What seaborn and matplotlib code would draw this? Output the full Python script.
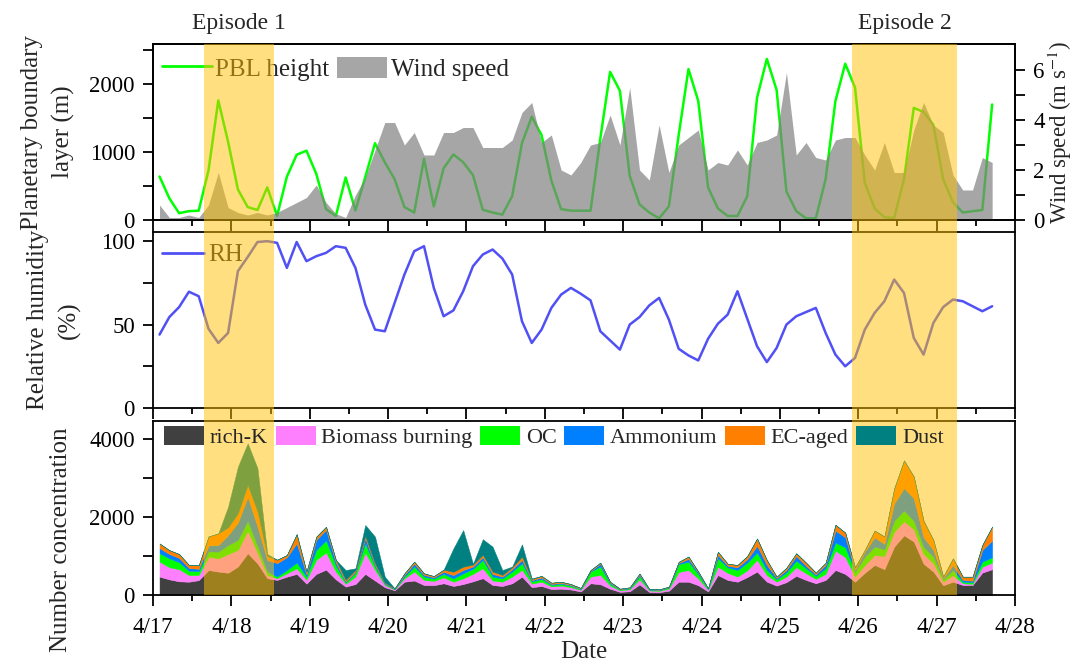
import numpy as np
import matplotlib
matplotlib.use("Agg")
import matplotlib.pyplot as plt
import matplotlib.transforms as mtransforms
from matplotlib.lines import Line2D
from matplotlib.patches import Patch, Rectangle
from matplotlib.ticker import FixedLocator, FixedFormatter
import seaborn as sns

# ---------------------------------------------------------------- data
# 3-hourly samples, first one at 4/17 02:00; x is expressed in days since 4/17 00:00
hours = np.arange(86) * 3 + 2
days = hours / 24.0

date_labels = ["4/17", "4/18", "4/19", "4/20", "4/21", "4/22",
               "4/23", "4/24", "4/25", "4/26", "4/27", "4/28"]

pbl_height = [640, 320, 100, 130, 137, 730, 1760, 1150, 450, 190,
              147, 480, 60, 637, 960, 1020, 680, 160, 60, 625,
              140, 630, 1130, 850, 600, 190, 110, 900, 200, 760,
              965, 850, 660, 150, 110, 80, 350, 1130, 1520, 1250,
              580, 160, 137, 137, 137, 1200, 2180, 1900, 650, 230,
              110, 25, 200, 1250, 2220, 1750, 480, 170, 60, 59,
              350, 1800, 2370, 1912, 420, 130, 25, 25, 600, 1750,
              2300, 1950, 550, 170, 40, 30, 600, 1650, 1590, 1400,
              600, 260, 110, 130, 147, 1700]

wind_speed = [0.6, 0.1, 0.1, 0.2, 0.1, 0.6, 1.9, 0.5, 0.3, 0.2,
              0.3, 0.2, 0.3, 0.5, 0.7, 0.9, 1.4, 0.7, 0.25, 0.1,
              1.0, 1.7, 2.8, 3.9, 3.9, 3.0, 3.5, 2.6, 2.6, 3.5,
              3.5, 3.7, 3.7, 2.9, 2.9, 2.9, 3.2, 4.3, 4.7, 3.1,
              3.4, 2.0, 1.8, 2.3, 3.0, 3.1, 4.2, 3.0, 5.3, 2.0,
              1.6, 3.8, 1.9, 3.0, 3.3, 3.6, 2.0, 2.3, 2.2, 2.8,
              2.2, 3.1, 3.2, 3.4, 5.9, 2.6, 3.1, 2.5, 2.4, 3.2,
              3.3, 3.3, 2.6, 2.0, 3.1, 1.9, 1.9, 3.6, 4.7, 3.8,
              3.5, 1.8, 1.2, 1.2, 2.5, 2.3]

rel_humidity = [44, 54.5, 60.5, 69.7, 67, 47.5, 39, 45, 82, 90.5,
                99.5, 100, 99, 84, 99.5, 88, 91, 93, 97, 96,
                84, 62, 47, 46, 63, 80, 94, 97, 72, 55,
                58.5, 70, 85, 92, 95, 89.6, 80, 52, 39, 47,
                60, 68, 72, 68.5, 64.5, 46, 40.5, 35, 50, 54.5,
                61.5, 66, 53, 35.5, 31.5, 28.5, 41.5, 50.5, 56, 70,
                53.5, 37, 27.5, 36, 50, 55, 57.5, 60, 45, 32,
                25, 30, 47, 57, 64, 77, 69, 42, 32, 51,
                60.5, 65, 64, 61, 58, 61]

rich_k = [470, 400, 350, 340, 380, 640, 600, 570, 730, 1070,
          810, 430, 385, 470, 540, 290, 540, 650, 400, 215,
          280, 540, 370, 200, 120, 340, 370, 255, 250, 300,
          230, 280, 350, 430, 255, 230, 300, 470, 200, 230,
          150, 160, 140, 90, 300, 275, 160, 80, 95, 270,
          75, 70, 110, 340, 340, 250, 90, 510, 385, 340,
          460, 600, 340, 240, 330, 490, 385, 300, 385, 640,
          540, 340, 570, 770, 660, 1240, 1530, 1370, 800, 600,
          250, 340, 255, 255, 575, 660]

biomass_burning = [385, 310, 310, 170, 130, 340, 340, 480, 425, 580,
                   275, 85, 45, 85, 145, 100, 360, 440, 200, 70,
                   190, 545, 270, 55, 20, 85, 230, 130, 110, 150,
                   110, 145, 190, 255, 115, 110, 170, 175, 90, 110,
                   70, 80, 60, 40, 170, 240, 80, 40, 50, 130,
                   40, 35, 50, 250, 300, 170, 40, 215, 180, 130,
                   170, 300, 170, 100, 140, 220, 170, 110, 155, 495,
                   430, 130, 200, 255, 340, 385, 360, 315, 250, 215,
                   90, 170, 45, 30, 150, 170]

oc = [215, 230, 180, 110, 100, 140, 170, 230, 255, 255,
      170, 85, 45, 85, 145, 80, 255, 310, 150, 35,
      100, 240, 85, 25, 10, 45, 130, 85, 60, 90,
      85, 130, 130, 215, 100, 85, 130, 170, 60, 70,
      40, 45, 35, 20, 130, 215, 50, 20, 25, 80,
      20, 20, 30, 200, 215, 110, 20, 215, 140, 170,
      200, 190, 130, 60, 110, 170, 130, 80, 145, 205,
      255, 130, 210, 215, 170, 280, 275, 220, 180, 170,
      60, 130, 40, 40, 130, 135]

ammonium = [130, 110, 110, 70, 60, 150, 170, 255, 445, 615,
            500, 300, 340, 325, 495, 60, 255, 270, 80, 25,
            25, 130, 40, 20, 10, 45, 70, 45, 35, 55,
            85, 85, 60, 70, 70, 45, 60, 85, 30, 40,
            25, 25, 20, 12, 15, 70, 25, 10, 12, 35,
            10, 10, 12, 30, 70, 40, 10, 85, 45, 70,
            85, 170, 130, 35, 60, 120, 60, 40, 85, 310,
            255, 45, 130, 240, 140, 445, 575, 575, 250, 170,
            35, 130, 45, 40, 300, 430]

ec_aged = [120, 100, 100, 80, 90, 230, 300, 200, 240, 300,
           385, 100, 90, 60, 235, 70, 85, 80, 70, 45,
           45, 60, 45, 15, 10, 40, 55, 40, 30, 55,
           85, 85, 50, 60, 60, 45, 50, 85, 30, 40,
           30, 30, 25, 18, 25, 30, 25, 12, 15, 35,
           9, 10, 12, 30, 60, 30, 10, 85, 50, 60,
           85, 190, 125, 35, 60, 70, 85, 43, 57, 150,
           120, 65, 45, 170, 190, 385, 710, 555, 420, 255,
           35, 170, 85, 105, 130, 360]

dust = [0, 0, 0, 0, 0, 0, 0, 530, 1195, 1070,
        1110, 50, 0, 0, 0, 0, 0, 0, 0, 250,
        45, 280, 685, 155, 0, 0, 0, 0, 0, 0,
        600, 940, 20, 400, 640, 125, 20, 315, 15, 0,
        0, 0, 0, 0, 0, 0, 0, 0, 0, 0,
        0, 0, 0, 0, 0, 0, 0, 0, 0, 0,
        0, 0, 0, 0, 0, 0, 0, 0, 0, 0,
        0, 0, 0, 0, 0, 0, 0, 0, 0, 0,
        0, 0, 0, 0, 0, 0]

species_names = ["rich-K", "Biomass burning", "OC", "Ammonium", "EC-aged", "Dust"]
species_colors = ["#404040", "#FF80FF", "#00FF00", "#0080FF", "#FF8000", "#008080"]

# pollution episodes (days since 4/17 00:00)
episode_names = ["Episode 1", "Episode 2"]
episode_start = [0.65, 8.92]
episode_end = [1.55, 10.26]

# ---------------------------------------------------------------- style
sns.set_theme(style="ticks")
plt.rcParams["font.family"] = ["Liberation Serif", "DejaVu Serif"]
plt.rcParams["mathtext.fontset"] = "stix"
plt.rcParams["axes.linewidth"] = 1.3
plt.rcParams["axes.edgecolor"] = "black"
plt.rcParams["xtick.color"] = "black"
plt.rcParams["ytick.color"] = "black"

TICK_FS = 16.5
LABEL_FS = 18

fig = plt.figure(figsize=(10.79, 6.64), dpi=100)
left, width = 153 / 1079, 862 / 1079
ax1 = fig.add_axes([left, 1 - 220 / 664, width, 176 / 664])
ax2 = fig.add_axes([left, 1 - 408 / 664, width, 176 / 664])
ax3 = fig.add_axes([left, 1 - 595 / 664, width, 174 / 664])
ax1w = ax1.twinx()

# ---------------------------------------------------------------- PBL + wind
sns.lineplot(x=days, y=pbl_height, ax=ax1, color="#00FF00", lw=1.8, legend=False)
ax1.set_ylim(0, 2590)
ax1w.fill_between(days, 0, wind_speed, color="#808080", alpha=0.7, lw=0)
ax1w.set_ylim(0, 7.04)
ax1w.set_zorder(ax1.get_zorder() + 1)
ax1w.patch.set_visible(False)

ax1.yaxis.set_major_locator(FixedLocator([0, 1000, 2000]))
ax1.yaxis.set_minor_locator(FixedLocator([500, 1500, 2500]))
ax1w.yaxis.set_major_locator(FixedLocator([0, 2, 4, 6]))
ax1w.yaxis.set_minor_locator(FixedLocator([1, 3, 5]))
ax1.set_ylabel("Planetary boundary\nlayer (m)", fontsize=LABEL_FS, linespacing=1.5)
ax1w.set_ylabel("Wind speed (m s$^{-1}$)", fontsize=16.5)

ax1.legend(handles=[Line2D([], [], color="#00FF00", lw=2),
                    Patch(facecolor="#A6A6A6", edgecolor="none")],
           labels=["PBL height", "Wind speed"], ncol=2, frameon=False,
           loc="center left", bbox_to_anchor=(0.010, 0.858),
           borderpad=0, borderaxespad=0, fontsize=LABEL_FS,
           handlelength=2.0, handletextpad=0.15, columnspacing=0.3,
           handleheight=0.9)

# ---------------------------------------------------------------- RH
sns.lineplot(x=days, y=rel_humidity, ax=ax2, color="#5050F5", lw=1.8, legend=False)
ax2.set_ylim(0, 105.5)
ax2.yaxis.set_major_locator(FixedLocator([0, 50, 100]))
ax2.yaxis.set_minor_locator(FixedLocator([25, 75]))
ax2.set_ylabel("Relative humidity\n(%)", fontsize=LABEL_FS, linespacing=1.5)
ax2.legend(handles=[Line2D([], [], color="#5050F5", lw=2)], labels=["RH"],
           frameon=False, loc="center left", bbox_to_anchor=(0.010, 0.869),
           borderpad=0, borderaxespad=0, fontsize=LABEL_FS,
           handlelength=1.7, handletextpad=0.15)

# ---------------------------------------------------------------- particle types
layers = [rich_k, biomass_burning, oc, ammonium, ec_aged, dust]
ax3.stackplot(days, *layers, colors=species_colors, labels=species_names,
              lw=0.3, edgecolor="face")
ax3.set_ylim(0, 4460)
ax3.yaxis.set_major_locator(FixedLocator([0, 2000, 4000]))
ax3.yaxis.set_minor_locator(FixedLocator([1000, 3000]))
ax3.set_ylabel("Number concentration", fontsize=LABEL_FS)
ax3.set_xlabel("Date", fontsize=LABEL_FS, labelpad=2)

# the species key sits above the episode bands, so it is a figure legend
species_key = fig.legend(handles=[Patch(facecolor=c, edgecolor="none") for c in species_colors],
                         labels=species_names, ncol=6, frameon=False,
                         loc="center left", bbox_to_anchor=(0.013, 0.908),
                         bbox_transform=ax3.transAxes,
                         borderpad=0, borderaxespad=0, fontsize=16,
                         handlelength=1.8, handletextpad=0.25, columnspacing=0.35,
                         handleheight=0.9)
species_key.set_zorder(20)

# ---------------------------------------------------------------- shared x axis
for ax in (ax1, ax2, ax3):
    ax.set_xlim(0, 11)
    ax.xaxis.set_major_locator(FixedLocator(np.arange(len(date_labels))))
    ax.xaxis.set_minor_locator(FixedLocator(np.arange(len(date_labels) - 1) + 0.5))
    ax.tick_params(axis="y", which="both", direction="out", length=7,
                   width=1.3, labelsize=TICK_FS, pad=6)
    ax.tick_params(axis="x", which="major", direction="out", length=8,
                   width=1.3, labelsize=TICK_FS, pad=8)
    ax.tick_params(axis="x", which="minor", direction="out", length=4, width=1.3)
    for sp in ax.spines.values():
        sp.set_visible(True)
        sp.set_linewidth(1.3)
    if ax is not ax3:
        ax.tick_params(axis="x", labelbottom=False)
ax3.xaxis.set_major_formatter(FixedFormatter(date_labels))
ax1w.tick_params(axis="y", which="both", direction="out", length=7, width=1.3,
                 labelsize=TICK_FS, pad=6)
for sp in ax1w.spines.values():
    sp.set_linewidth(1.3)

ax1.yaxis.set_label_coords(-0.090, 0.5)
ax2.yaxis.set_label_coords(-0.084, 0.5)
ax3.yaxis.set_label_coords(-0.094, 0.32)
ax1w.yaxis.set_label_coords(1.036, 0.5)

# ---------------------------------------------------------------- episode bands
band = mtransforms.blended_transform_factory(ax3.transData, fig.transFigure)
y_low, y_high = 1 - 595 / 664, 1 - 44 / 664
for name, s, e in zip(episode_names, episode_start, episode_end):
    fig.add_artist(Rectangle((s, y_low), e - s, y_high - y_low, transform=band,
                             facecolor="#FFC000", alpha=0.5, lw=0, zorder=10))
    fig.text((s + e) / 2, 1 - 24 / 664, name, transform=band, ha="center",
             va="center", fontsize=17)

fig.savefig("out.png", dpi=100)
